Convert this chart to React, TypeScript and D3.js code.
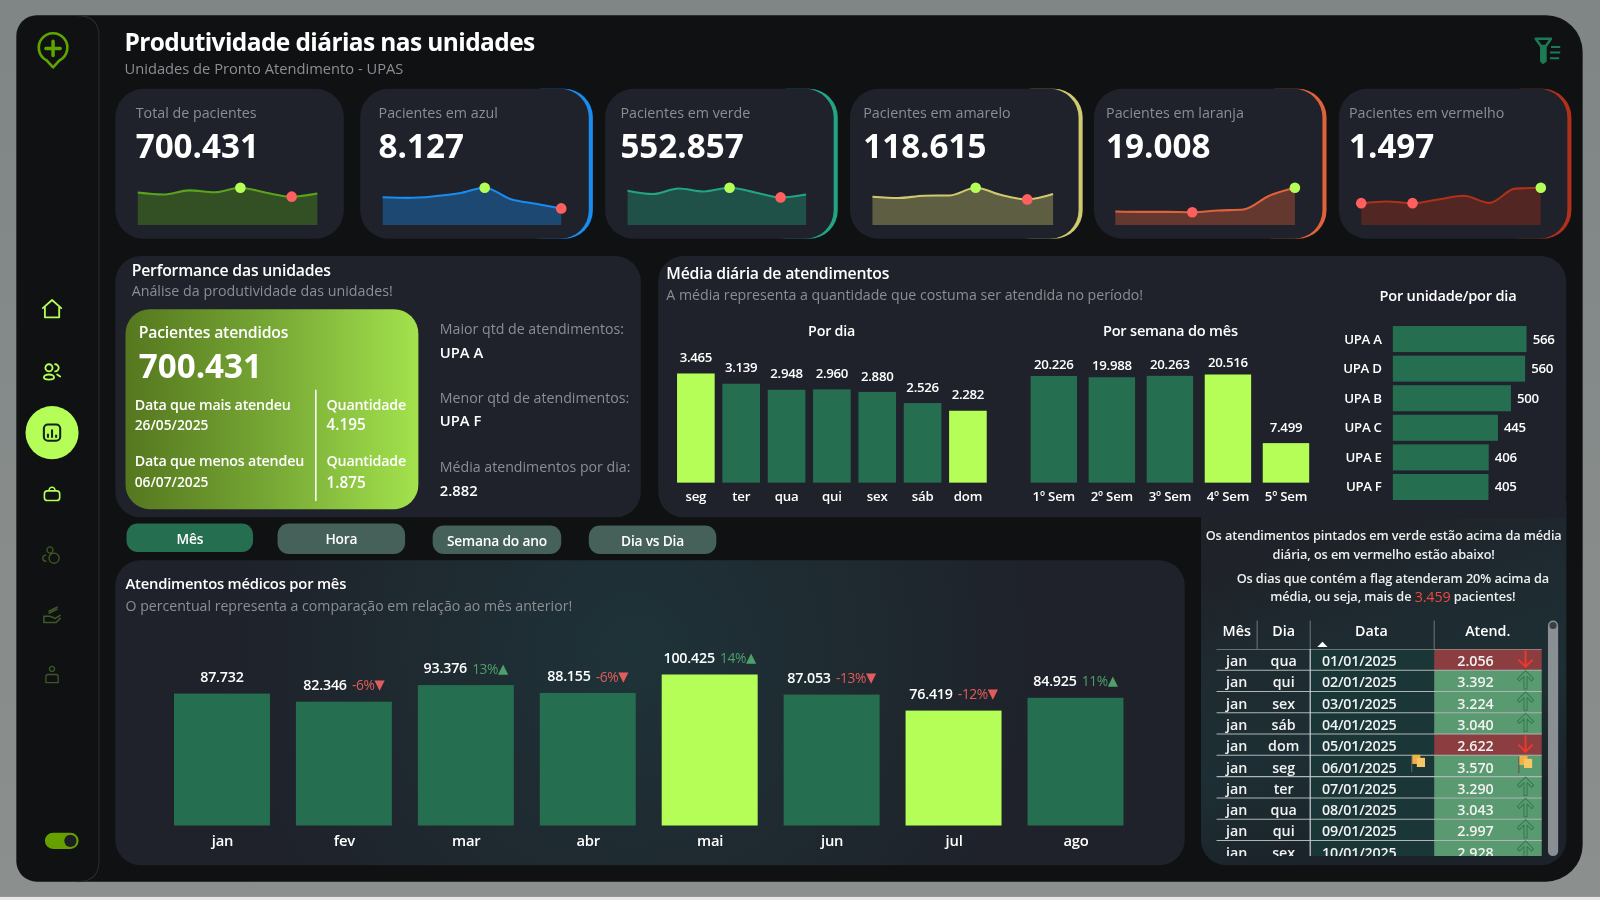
import * as d3 from 'd3';

// dados
const meses = ['jan', 'fev', 'mar', 'abr', 'mai', 'jun', 'jul', 'ago'];
const atendMes = [87732, 82346, 93376, 88155, 100425, 87053, 76419, 84925];
const pctMes = [null, -6, 13, -6, 14, -13, -12, 11];

const cardTitulos = ['Total de pacientes', 'Pacientes em azul', 'Pacientes em verde', 'Pacientes em amarelo', 'Pacientes em laranja', 'Pacientes em vermelho'];
const cardTotais = [700431, 8127, 552857, 118615, 19008, 1497];
const sparkAzul = [1040, 1020, 1078, 1190, 1400, 980, 795, 624];
const sparkVerde = [71900, 64900, 76800, 70500, 78200, 68400, 57900, 64257];
const sparkAmarelo = [14100, 13440, 14600, 14765, 18580, 14930, 12775, 15425];
const sparkLaranja = [1716, 1672, 1672, 1628, 1848, 1980, 3740, 4752];
const sparkVermelho = [150, 162, 150, 176, 201, 152, 250, 256];
const sparks = [atendMes, sparkAzul, sparkVerde, sparkAmarelo, sparkLaranja, sparkVermelho];
const cardCores = ['#5aa31c', '#1a8cf0', '#22a583', '#cfc96f', '#e0623a', '#b0301a'];

const diasSemana = ['seg', 'ter', 'qua', 'qui', 'sex', 'sáb', 'dom'];
const mediaDia = [3465, 3139, 2948, 2960, 2880, 2526, 2282];
const semanas = ['1º Sem', '2º Sem', '3º Sem', '4º Sem', '5º Sem'];
const mediaSemana = [20226, 19988, 20263, 20516, 7499];
const unidades = ['UPA A', 'UPA D', 'UPA B', 'UPA C', 'UPA E', 'UPA F'];
const mediaUnidade = [566, 560, 500, 445, 406, 405];

const botoes = ['Mês', 'Hora', 'Semana do ano', 'Dia vs Dia'];

const tabMes = ['jan', 'jan', 'jan', 'jan', 'jan', 'jan', 'jan', 'jan', 'jan', 'jan'];
const tabDia = ['qua', 'qui', 'sex', 'sáb', 'dom', 'seg', 'ter', 'qua', 'qui', 'sex'];
const tabData = ['01/01/2025', '02/01/2025', '03/01/2025', '04/01/2025', '05/01/2025', '06/01/2025', '07/01/2025', '08/01/2025', '09/01/2025', '10/01/2025'];
const tabAtend = [2056, 3392, 3224, 3040, 2622, 3570, 3290, 3043, 2997, 2928];
const mediaDiaria = 2882;
const limiteFlag = 3459;

const LIME = '#b5fe57';
const GREEN = '#266e50';
const PANEL = '#1f222a';
const GRAY = '#8b8e93';
const FONT = '"Open Sans", "Noto Sans", sans-serif';

const fmt = d3.formatLocale({ decimal: ',', thousands: '.', grouping: [3], currency: ['', ''] }).format(',');

function T({ x, y, s = 14, w = 400, c = '#fff', a = 'start', sp = 0, children }: any) {
    return (
        <text x={x} y={y} fontSize={s} fontWeight={w} fill={c} textAnchor={a} dominantBaseline="central"
            letterSpacing={sp} fontFamily={FONT}>{children}</text>
    );
}

function Spark({ values, x0, x1, color }: any) {
    const base = 220.5;
    const x = d3.scalePoint<number>().domain(values.map((_: number, i: number) => i)).range([x0, x1]);
    const y = d3.scaleLinear().domain([0, d3.max(values) as number]).range([base, 184]);
    const ln = d3.line<number>().x((_, i) => x(i) as number).y(d => y(d)).curve(d3.curveMonotoneX);
    const ar = d3.area<number>().x((_, i) => x(i) as number).y0(base).y1(d => y(d)).curve(d3.curveMonotoneX);
    const mx = d3.max(values), mn = d3.min(values);
    return (
        <g>
            <path d={ar(values) as string} fill={color} fillOpacity={0.36} />
            <path d={ln(values) as string} fill="none" stroke={color} strokeWidth={2} />
            {values.map((v: number, i: number) => v === mx || v === mn ? (
                <circle key={i} cx={x(i)} cy={y(v)} r={5.2} fill={v === mx ? LIME : '#ff5f5f'} />
            ) : null)}
        </g>
    );
}

function Card({ i }: { i: number }) {
    const cardX = [113, 353, 593, 833, 1072, 1312];
    const textX = [133, 371, 608, 846, 1084, 1322];
    const x = cardX[i];
    const sx = [135, 375, 615, 855, 1093, 1334];
    const sw = [176, 175, 175, 177, 176, 176];
    return (
        <g>
            {i > 0 && <rect x={x + 150} y={87} width={78} height={147} rx={28} fill={cardCores[i]} />}
            <rect x={x} y={87} width={224} height={147} rx={28} fill={PANEL} />
            <T x={textX[i]} y={110.5} s={14} c={GRAY}>{cardTitulos[i]}</T>
            <T x={textX[i]} y={143} s={32.5} w={700}>{fmt(cardTotais[i])}</T>
            <Spark values={sparks[i]} x0={sx[i]} x1={sx[i] + sw[i]} color={cardCores[i]} />
        </g>
    );
}

function VBars({ cats, values, x0, x1, base, top, inner, labelOff = 16 }: any) {
    const x = d3.scaleBand<string>().domain(cats).range([x0, x1]).paddingInner(inner);
    const [mn, mx] = d3.extent(values as number[]) as [number, number];
    const y = d3.scaleLinear().domain([0, mx]).range([base, top]);
    return (
        <g>
            {cats.map((c: string, i: number) => {
                const v = values[i];
                const cx = (x(c) as number) + x.bandwidth() / 2;
                return (
                    <g key={c}>
                        <rect x={x(c)} y={y(v)} width={x.bandwidth()} height={base - y(v)} fill={v === mn || v === mx ? LIME : GREEN} />
                        <T x={cx} y={y(v) - (v === mn ? 16 : labelOff)} s={13} w={600} a="middle" sp={-0.3}>{fmt(v)}</T>
                        <T x={cx} y={base + 13.5} s={13} w={600} a="middle" sp={-0.2}>{c}</T>
                    </g>
                );
            })}
        </g>
    );
}

function UnitBars() {
    const y = d3.scaleBand<string>().domain(unidades).range([319.5, 490]).paddingInner(0.12);
    const x = d3.scaleLinear().domain([0, 566]).range([1365, 1496]);
    return (
        <g>
            {unidades.map((u, i) => {
                const v = mediaUnidade[i];
                const cy = (y(u) as number) + y.bandwidth() / 2;
                return (
                    <g key={u}>
                        <rect x={1365} y={y(u)} width={x(v) - 1365} height={y.bandwidth()} fill={GREEN} />
                        <T x={1354} y={cy - 0.5} s={13} w={600} a="end" sp={-0.3}>{u}</T>
                        <T x={x(v) + 6} y={cy - 0.5} s={13} w={600} sp={-0.3}>{v}</T>
                    </g>
                );
            })}
        </g>
    );
}

function MonthBars() {
    const base = 809;
    const x = d3.scaleBand<string>().domain(meses).range([170.5, 1101]).paddingInner(0.213);
    const [mn, mx] = d3.extent(atendMes) as [number, number];
    const y = d3.scaleLinear().domain([0, mx]).range([base, 661]);
    return (
        <g>
            {meses.map((m, i) => {
                const v = atendMes[i];
                const p = pctMes[i];
                const cx = (x(m) as number) + x.bandwidth() / 2;
                const up = p != null && p > 0;
                return (
                    <g key={m}>
                        <rect x={x(m)} y={y(v)} width={x.bandwidth()} height={base - y(v)} fill={v === mn || v === mx ? LIME : GREEN} />
                        <text x={cx} y={y(v) - 17} textAnchor="middle" dominantBaseline="central" fontFamily={FONT} fontSize={14} fontWeight={600} fill="#fff" letterSpacing={-0.2}>
                            {fmt(v)}
                            {p != null && <tspan dx={5} fontSize={13.5} fontWeight={400} letterSpacing={-0.4} fill={up ? '#4f9f6a' : '#e25c5c'}>{p}%</tspan>}
                            {p != null && <tspan fontSize={13} fontFamily="DejaVu Sans" fill={up ? '#4f9f6a' : '#e25c5c'}>{up ? '▲' : '▼'}</tspan>}
                        </text>
                        <T x={cx + 0.5} y={base + 14} s={14.5} w={600} a="middle" sp={-0.2}>{m}</T>
                    </g>
                );
            })}
        </g>
    );
}

function Flag({ x, y }: any) {
    return (
        <g transform={`translate(${x},${y})`}>
            <line x1={-6.5} x2={-6.5} y1={-6} y2={10} stroke="#5a5f5a" strokeWidth={1.2} />
            <rect x={-6} y={-7} width={8} height={9} fill="#efb143" />
            <rect x={-1.5} y={-4} width={8} height={9} fill="#f7c765" />
        </g>
    );
}

function Arrow({ x, y, up }: any) {
    if (!up) {
        return <path transform={`translate(${x},${y})`} d="M0,-8V8M-7,1L0,8L7,1" fill="none" stroke="#f0392b" strokeWidth={1.8} />;
    }
    return (
        <path transform={`translate(${x},${y})`} d="M0,-9L8,-1L6,1L1.5,-3.5V9H-1.5V-3.5L-6,1L-8,-1Z" strokeLinejoin="round"
            fill="#5a9a70" stroke="#2f7d4f" strokeWidth={1} />
    );
}

function Table() {
    const top = 636, step = 20.85, left = 1192, right = 1511;
    const cols = [1232, 1284, 1405.5];
    const y = d3.scaleLinear().domain([0, 1]).range([top, top + step]);
    return (
        <g>
            <clipPath id="tabclip"><rect x={left} y={top} width={right - left} height={839 - top} /></clipPath>
            <T x={1212} y={618} s={14} w={600} a="middle">Mês</T>
            <T x={1258} y={618} s={14} w={600} a="middle">Dia</T>
            <T x={1344} y={618} s={14} w={600} a="middle">Data</T>
            <T x={1458} y={618} s={14} w={600} a="middle">Atend.</T>
            <path d="M1291,634L1296,629L1301,634Z" fill="#fff" />
            {cols.map(c => <line key={c} x1={c} x2={c} y1={608} y2={636} stroke="#6d7578" />)}
            <g clipPath="url(#tabclip)">
                <rect x={cols[1]} y={top} width={cols[2] - cols[1]} height={839 - top} fill="#1b3637" />
                {tabAtend.map((v, i) => {
                    const y0 = y(i);
                    const cy = y0 + step / 2;
                    const acima = v > mediaDiaria;
                    const flag = v > limiteFlag;
                    return (
                        <g key={i}>
                            <rect x={cols[2]} y={y0} width={right - cols[2]} height={step} fill={acima ? '#5a9a70' : '#8b3d40'} />
                            <line x1={left} x2={right} y1={y0} y2={y0} stroke="#aeb6b6" strokeWidth={1} />
                            <T x={1212} y={cy + 1} s={14} w={600} a="middle" c="#f2f2f2">{tabMes[i]}</T>
                            <T x={1258} y={cy + 1} s={14} w={600} a="middle" c="#f2f2f2">{tabDia[i]}</T>
                            <T x={1332} y={cy + 1} s={14} w={600} a="middle" c="#f2f2f2" sp={-0.2}>{tabData[i]}</T>
                            <T x={1446} y={cy + 1} s={14} w={600} a="middle" c="#f2f2f2">{fmt(v)}</T>
                            {flag ? <Flag x={1495} y={cy - 3} /> : <Arrow x={1495} y={cy - 1} up={acima} />}
                            {flag && <Flag x={1390} y={cy - 4} />}
                        </g>
                    );
                })}
                <line x1={cols[1]} x2={cols[1]} y1={top} y2={839} stroke="#c9cfcf" strokeWidth={1.2} />
            </g>
            <rect x={1517} y={608} width={10} height={231} rx={5} fill="#8a8f94" />
            <circle cx={1522} cy={613} r={3.5} fill="#3b3f44" />
        </g>
    );
}

function Icon({ x, y, d, c = LIME, sw = 1.8 }: any) {
    return <path transform={`translate(${x},${y})`} d={d} fill="none" stroke={c} strokeWidth={sw} strokeLinejoin="round" strokeLinecap="round" />;
}

function Sidebar() {
    const dim = '#3f5a24';
    return (
        <g>
            <path d="M52,66 L45.5,59 A14,14 0 1 1 58.5,59 Z" fill="none" stroke="#5ea500" strokeWidth={2.6} strokeLinejoin="round" />
            <path d="M52,40.5V54.5M45,47.5H59" stroke="#5ea500" strokeWidth={3.4} strokeLinecap="round" />
            <Icon x={51} y={303} d="M-9,-1L0,-9L9,-1M-7,-2V8H7V-2" />
            <Icon x={51} y={364} d="M-3,-7a3.5,3.5 0 1 0 0.01,0M3,-7a3.5,3.5 0 0 1 0,7M-8,6a5,3 0 0 1 10,0a5,2 0 0 1 -10,0M5,3l3,2" />
            <circle cx={51} cy={424} r={26} fill={LIME} />
            <rect x={43} y={416} width={16} height={16} rx={4} fill="none" stroke="#14201a" strokeWidth={2} />
            <path d="M47,429v-4M51,429v-8M55,429v-3" stroke="#14201a" strokeWidth={2} />
            <Icon x={51} y={484} sw={1.6} d="M-4.5,-3H4.5a3,3 0 0 1 3,3V3.5a3,3 0 0 1 -3,3H-4.5a3,3 0 0 1 -3,-3V0a3,3 0 0 1 3,-3M-3,-3a3,3.5 0 0 1 6,0" />
            <Icon x={51} y={544} c={dim} sw={1.3} d="M-2,-8a3,3 0 1 0 0.01,0M2,-2a5,5 0 1 0 0.01,0M-6,0a3,3 0 0 0 0,6" />
            <Icon x={51} y={603} c={dim} sw={1.5} d="M-8,1H-2L3,3L8,0M-8,1V7H4L8,3M-3,-2L5,-6M-3,-4L5,-8" />
            <Icon x={51} y={662} c={dim} sw={1.3} d="M0,-9a2.5,2.5 0 1 0 0.01,0M-6,7V1a2,2 0 0 1 2,-2H4a2,2 0 0 1 2,2V7Z" />
            <rect x={44} y={816} width={33} height={16} rx={8} fill="#66a000" />
            <circle cx={69} cy={824} r={6} fill="#1b1e22" />
        </g>
    );
}

export default function App() {
    return (
        <svg viewBox="0 0 1568 882" width={1600} height={900} style={{ position: 'fixed', left: 0, top: 0, display: 'block' }}>
            <defs>
                <linearGradient id="bgGrad" x1="0" x2="0" y1="0" y2="1">
                    <stop offset="0" stopColor="#808585" />
                    <stop offset="1" stopColor="#8b908f" />
                </linearGradient>
                <linearGradient id="verdeCard" x1="0" x2="1" y1="0" y2="0">
                    <stop offset="0" stopColor="#55771f" />
                    <stop offset="0.5" stopColor="#77a835" />
                    <stop offset="1" stopColor="#a3e24d" />
                </linearGradient>
                <radialGradient id="tealA" gradientUnits="userSpaceOnUse" cx={620} cy={640} r={400}>
                    <stop offset="0" stopColor="#1e3338" />
                    <stop offset="1" stopColor="#1f222a" />
                </radialGradient>
                <linearGradient id="tealB" x1="0" x2="0.3" y1="0" y2="1">
                    <stop offset="0" stopColor="#1f222a" />
                    <stop offset="0.25" stopColor="#1f2329" />
                    <stop offset="0.45" stopColor="#1e2a30" />
                    <stop offset="0.72" stopColor="#1d2f34" />
                    <stop offset="1" stopColor="#1b2229" />
                </linearGradient>
            </defs>
            <rect width={1568} height={882} fill="url(#bgGrad)" />
            <rect y={879} width={1568} height={3} fill="#e6e8e8" />
            <path d="M36,15H1515A36,36 0 0 1 1551,51V828A36,36 0 0 1 1515,864H36A20,20 0 0 1 16,844V35A20,20 0 0 1 36,15Z" fill="#0f1113" />
            <path d="M76,15.5Q97,15.5 97,36V844Q97,864 76,864" fill="none" stroke="#2a2d30" />

            <Sidebar />

            <T x={122} y={41} s={24} w={700} sp={-0.58}>Produtividade diárias nas unidades</T>
            <T x={122} y={67} s={14.4} c={GRAY}>Unidades de Pronto Atendimento - UPAS</T>
            <g transform="translate(1516,49)">
                <path d="M-11,-11H4L-1,-4H-6Z" fill="none" stroke="#1e7a55" strokeWidth={2.4} strokeLinejoin="round" />
                <path d="M-6,-4H-1V11L-4,13L-6,11Z" fill="#1e7a55" stroke="#1e7a55" strokeWidth={1.5} strokeLinejoin="round" />
                <path d="M4,-3H13M3,2.5H13M3,8H12" stroke="#1e7a55" strokeWidth={2} />
            </g>

            {cardTitulos.map((_, i) => <Card key={i} i={i} />)}

            <rect x={113} y={251} width={515} height={256} rx={25} fill={PANEL} />
            <T x={129} y={265} s={15.5} w={600} sp={-0.2}>Performance das unidades</T>
            <T x={129} y={285} s={14} c={GRAY}>Análise da produtividade das unidades!</T>
            <rect x={123} y={303} width={287} height={196} rx={24} fill="url(#verdeCard)" />
            <T x={136} y={325} s={15.5} w={600} sp={-0.2}>Pacientes atendidos</T>
            <T x={136} y={358} s={32.5} w={700}>{fmt(700431)}</T>
            <T x={132} y={396} s={14} w={600} sp={-0.2}>Data que mais atendeu</T>
            <T x={132} y={416} s={13.5} w={600}>26/05/2025</T>
            <T x={132} y={451} s={14} w={600} sp={-0.2}>Data que menos atendeu</T>
            <T x={132} y={472} s={13.5} w={600}>06/07/2025</T>
            <line x1={309.5} x2={309.5} y1={382} y2={491} stroke="#fff" strokeWidth={1.5} />
            <T x={320} y={396} s={14} w={600} sp={-0.2}>Quantidade</T>
            <T x={320} y={416} s={15} w={600}>{fmt(4195)}</T>
            <T x={320} y={451} s={14} w={600} sp={-0.2}>Quantidade</T>
            <T x={320} y={472} s={15} w={600}>{fmt(1875)}</T>
            <T x={431} y={322} s={13.9} c={GRAY}>Maior qtd de atendimentos:</T>
            <T x={431} y={345} s={14.5} w={600}>UPA A</T>
            <T x={431} y={390} s={13.9} c={GRAY}>Menor qtd de atendimentos:</T>
            <T x={431} y={412} s={14.5} w={600}>UPA F</T>
            <T x={431} y={457} s={13.9} c={GRAY}>Média atendimentos por dia:</T>
            <T x={431} y={480} s={14.5} w={600}>{fmt(2882)}</T>

            <rect x={1177} y={470} width={358} height={378} rx={25} fill="url(#tealB)" />
            <rect x={645} y={251} width={890} height={256} rx={25} fill={PANEL} />
            <rect x={1177} y={490} width={358} height={17} fill={PANEL} />
            <T x={653} y={268} s={15.5} w={600} sp={-0.2}>Média diária de atendimentos</T>
            <T x={653} y={289} s={13.9} c={GRAY}>A média representa a quantidade que costuma ser atendida no período!</T>
            <T x={815} y={323.5} s={14} w={600} a="middle" sp={-0.2}>Por dia</T>
            <T x={1147} y={323.5} s={14.3} w={600} a="middle" sp={-0.2}>Por semana do mês</T>
            <T x={1419} y={289.5} s={14.3} w={600} a="middle" sp={-0.2}>Por unidade/por dia</T>
            <VBars cats={diasSemana} values={mediaDia} x0={663.5} x1={967} base={473} top={366} inner={0.17} />
            <VBars cats={semanas} values={mediaSemana} x0={1010} x1={1283} base={473} top={367} inner={0.2} labelOff={12} />
            <UnitBars />

            {botoes.map((b, i) => {
                const bx = [124, 272, 424, 577];
                const by = [513, 513, 515, 515];
                const bw = [124, 125, 126, 125];
                const bh = [28, 30, 28, 28];
                return (
                    <g key={b}>
                        <rect x={bx[i]} y={by[i]} width={bw[i]} height={bh[i]} rx={11} fill={i === 0 ? GREEN : '#46615a'} />
                        <T x={bx[i] + bw[i] / 2} y={by[i] + 14.5} s={13.5} w={600} a="middle" sp={-0.2}>{b}</T>
                    </g>
                );
            })}

            <rect x={113} y={549} width={1048} height={299} rx={25} fill="url(#tealA)" />
            <T x={123} y={571.5} s={14.5} w={600} sp={-0.2}>Atendimentos médicos por mês</T>
            <T x={123} y={593.5} s={13.85} c={GRAY}>O percentual representa a comparação em relação ao mês anterior!</T>
            <MonthBars />

            <T x={1356} y={524} s={12.5} w={600} a="middle" c="#eef0f0" sp={-0.1}>Os atendimentos pintados em verde estão acima da média</T>
            <T x={1356} y={543} s={12.5} w={600} a="middle" c="#eef0f0" sp={-0.1}>diária, os em vermelho estão abaixo!</T>
            <T x={1365} y={566} s={12.5} w={600} a="middle" c="#eef0f0" sp={-0.1}>Os dias que contém a flag atenderam 20% acima da</T>
            <text x={1365} y={584} textAnchor="middle" dominantBaseline="central" fontFamily={FONT} fontSize={12.5} fontWeight={600} fill="#eef0f0" letterSpacing={-0.1}>
                média, ou seja, mais de <tspan fill="#f0483c" fontSize={14} fontWeight={400}>{fmt(limiteFlag)}</tspan> pacientes!
            </text>
            <Table />
        </svg>
    );
}
